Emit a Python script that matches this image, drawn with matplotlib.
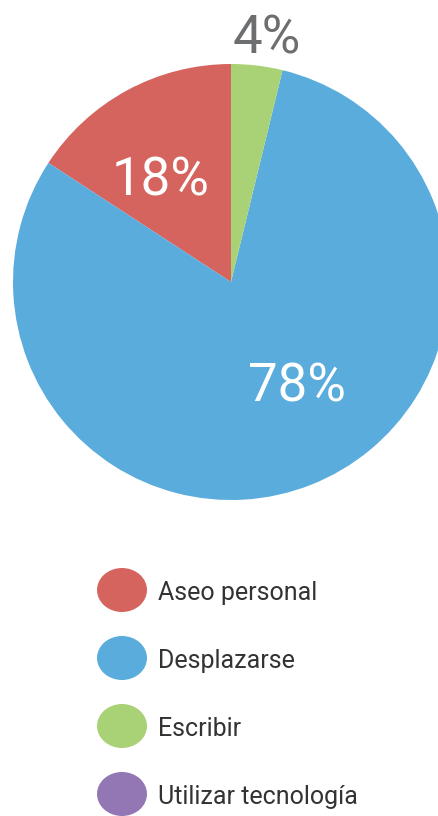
import matplotlib
matplotlib.use("Agg")
import matplotlib.pyplot as plt
from matplotlib.patches import Ellipse

# ---- data ----
categories = ["Aseo personal", "Desplazarse", "Escribir", "Utilizar tecnología"]
shares = [15.8, 80.4, 3.8, 0.0]          # slice sizes as drawn
pct_labels = ["18%", "78%", "4%", ""]      # printed labels
colors = ["#D5645F", "#59ACDC", "#A9D175", "#9376B4"]

# ---- layout (pixel coordinates, y measured from top) ----
W, H = 438, 816
fig = plt.figure(figsize=(W / 100, H / 100), dpi=100)
ax = fig.add_axes([0, 0, 1, 1])

def Y(y):
    return H - y

cx, cy, r = 231, 282, 218
ax.pie(shares, colors=colors, startangle=90, center=(cx, Y(cy)), radius=r,
       wedgeprops=dict(linewidth=0), frame=True)
ax.set_xlim(0, W)
ax.set_ylim(0, H)
ax.set_aspect("equal")
ax.axis("off")

label_pos = [(161, 195), (297, 401.5), (267, 53), None]
label_col = ["white", "white", "#6D6E70", None]
for lab, pos, col in zip(pct_labels, label_pos, label_col):
    if pos is None or not lab:
        continue
    ax.text(pos[0], Y(pos[1]), lab, ha="center", va="baseline",
            fontsize=38, color=col, family="Roboto", fontweight="normal")

# ---- legend ----
leg_x, leg_y0, leg_dy = 122, 590, 68
for i, (cat, col) in enumerate(zip(categories, colors)):
    yc = leg_y0 + i * leg_dy
    ax.add_patch(Ellipse((leg_x, Y(yc)), 50, 44, facecolor=col, edgecolor="none"))
    ax.text(158, Y(yc + 10), cat, ha="left", va="baseline", fontsize=18,
            color="#333333", family="Roboto", fontweight="normal")

fig.savefig("out.png", dpi=100)
